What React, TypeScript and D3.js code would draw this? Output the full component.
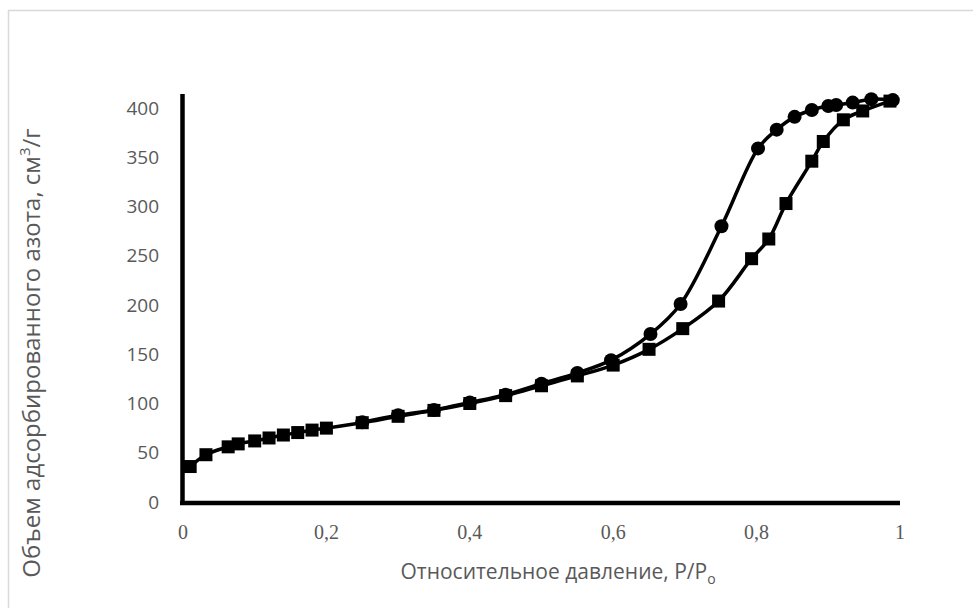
import React from "react";
import * as d3 from "d3";

const adsX = [0.01, 0.032, 0.063, 0.077, 0.1, 0.12, 0.14, 0.16, 0.18, 0.2, 0.25, 0.3, 0.35, 0.4, 0.45, 0.5, 0.55, 0.6, 0.65, 0.697, 0.747, 0.793, 0.817, 0.841, 0.877, 0.893, 0.921, 0.948, 0.986];
const adsY = [36, 48, 56, 59, 62, 65, 68, 70.5, 73, 75, 80.5, 87, 93, 100, 108, 118, 128, 139, 155, 176, 204, 247, 267, 303, 346, 366, 388, 397, 407];
const desX = [0.25, 0.3, 0.35, 0.4, 0.45, 0.5, 0.55, 0.597, 0.652, 0.694, 0.751, 0.802, 0.828, 0.853, 0.877, 0.9, 0.911, 0.934, 0.96, 0.99];
const desY = [81, 88, 93.5, 101, 109, 120, 131, 144, 170.5, 201, 280, 359, 378, 391, 398, 402, 403, 405.5, 409, 408];
const xTicks = [0, 0.2, 0.4, 0.6, 0.8, 1];
const xTickLabels = ["0", "0,2", "0,4", "0,6", "0,8", "1"];
const yTicks = [0, 50, 100, 150, 200, 250, 300, 350, 400];

export default function App() {
  const W = 973, H = 608;
  const x = d3.scaleLinear().domain([0, 1]).range([183, 900]);
  const y = d3.scaleLinear().domain([0, 400]).range([502, 108]);
  const line = d3.line<[number, number]>().x(d => x(d[0])).y(d => y(d[1])).curve(d3.curveCatmullRom.alpha(0.5));
  const ads: [number, number][] = adsX.map((v, i) => [v, adsY[i]]);
  const des: [number, number][] = desX.map((v, i) => [v, desY[i]]);
  const sq = 13;
  return (
    <div style={{ position: "fixed", left: 0, top: 0, width: W, height: H, background: "#fff" }}>
      <svg width={W} height={H} style={{ display: "block" }}>
        <rect x={8.5} y={10.5} width={1000} height={1000} fill="#fff" stroke="#d9d9d9" strokeWidth={1.5} />
        {yTicks.map(t => (
          <text key={t} x={159} y={y(t)} dy="0.35em" textAnchor="end" fontFamily="'Open Sans'" fontSize={19} fill="#595959">{t}</text>
        ))}
        {xTicks.map((t, i) => (
          <text key={t} x={x(t)} y={532} dy="0.35em" textAnchor="middle" fontFamily="'Liberation Serif'" fontSize={20} fill="#595959">{xTickLabels[i]}</text>
        ))}
        <text x={558} y={579} textAnchor="middle" fontFamily="'Open Sans'" fontSize={21} fill="#595959">
          Относительное давление, P/P<tspan fontSize={14} dy={5}>o</tspan>
        </text>
        <text transform={`translate(40,${353}) rotate(-90)`} textAnchor="middle" fontFamily="'Open Sans'" fontSize={24} fill="#595959">
          Объем адсорбированного азота, см<tspan fontSize={15} dy={-10}>3</tspan><tspan dy={10}>/г</tspan>
        </text>
        <path d={line(ads) || ""} fill="none" stroke="#000" strokeWidth={3.5} />
        <path d={line(des) || ""} fill="none" stroke="#000" strokeWidth={3.5} />
        {ads.map((d, i) => (
          <rect key={"a" + i} x={x(d[0]) - sq / 2} y={y(d[1]) - sq / 2} width={sq} height={sq} fill="#000" />
        ))}
        {des.map((d, i) => (
          <circle key={"d" + i} cx={x(d[0])} cy={y(d[1])} r={7} fill="#000" />
        ))}
        <line x1={182.5} x2={182.5} y1={94} y2={505} stroke="#000" strokeWidth={4.5} />
        <line x1={180} x2={900} y1={503} y2={503} stroke="#000" strokeWidth={4.5} />
      </svg>
    </div>
  );
}
